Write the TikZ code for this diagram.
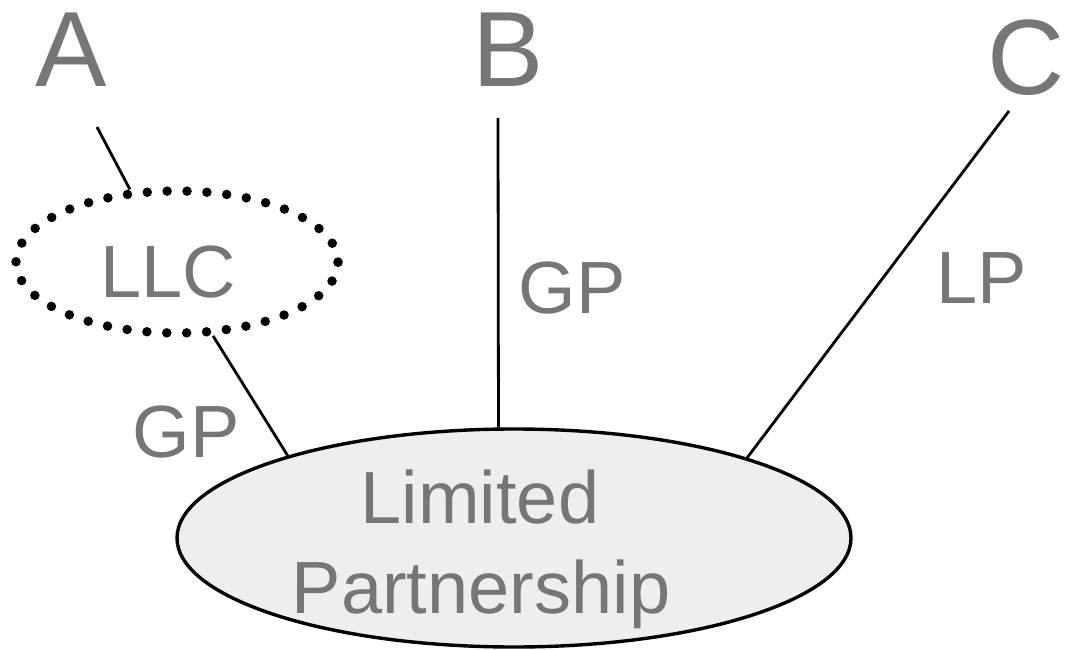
\documentclass[tikz,border=0pt]{standalone}
\usepackage{fontspec}
\setmainfont{Liberation Sans}
\usetikzlibrary{shapes.geometric}
\definecolor{txtgray}{RGB}{118,118,118}
\tikzset{
  bigtxt/.style={anchor=base, inner sep=0pt, text=txtgray, font=\fontsize{107}{107}\selectfont},
  midtxt/.style={anchor=base, inner sep=0pt, text=txtgray, font=\fontsize{74}{74}\selectfont},
  conn/.style={draw=black, line width=2.8pt},
  dotring/.style={ellipse, inner sep=0pt, draw=black, line width=9.5pt, line cap=round,
    dash pattern=on 0pt off 19.9pt},
  lpshape/.style={ellipse, inner sep=0pt, draw=black, fill=gray!13, line width=3.4pt}
}
\begin{document}
\begin{tikzpicture}[x=1pt, y=-1pt]
\useasboundingbox (0,0) rectangle (1066,650);
% top letters
\node[bigtxt] (A) at (71,87) {A};
\node[bigtxt] (B) at (508,87) {B};
\node[bigtxt] (C) at (1026,95) {C};
% shapes
\node[dotring, minimum width=322pt, minimum height=142pt] (llc) at (177,262) {};
\node[midtxt] (llctext) at (168,297) {LLC};
\node[lpshape, minimum width=674pt, minimum height=218pt] (lp) at (514,538) {};
\node[midtxt] (lim) at (480,523) {Limited};
\node[midtxt] (part) at (481,613) {Partnership};
% free ends of connectors
\coordinate (aEnd) at (97,127);
\coordinate (bEnd) at (498,118);
\coordinate (cEnd) at (1009,111);
% connectors
\draw[conn] (aEnd) -- (llc.123);
\draw[conn] (llc.-64) -- (lp.160.3);
\draw[conn] (bEnd) -- (lp.98.4);
\draw[conn] (cEnd) -- (lp.19.5);
% labels
\node[midtxt] (gp1) at (186,457) {GP};
\node[midtxt] (gp2) at (572,313) {GP};
\node[midtxt] (lptext) at (982,303) {LP};
\end{tikzpicture}
\end{document}
